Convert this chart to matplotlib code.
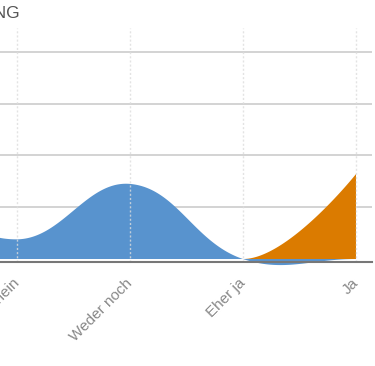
import numpy as np
import matplotlib
matplotlib.use("Agg")
import matplotlib.pyplot as plt

# ---- data ----
categories = ["Nein", "Eher nein", "Weder noch", "Eher ja", "Ja"]
blue_values = [14.0, 3.8, 14.5, 0.0, 0.0]
orange_values = [0.0, 0.0, 0.0, 0.0, 16.4]
title_text = "ZUSTIMMUNG"
grid_values = [10, 20, 30, 40]

BLUE = "#5893ce"
ORANGE = "#db7b00"

W, H = 375, 366
fig = plt.figure(figsize=(W / 100, H / 100), dpi=100)
ax = fig.add_axes([-112 / W, 104.5 / H, 484 / W, 233.5 / H])
ax.set_xlim(-0.1416, 4.1416)
ax.set_ylim(-0.48, 44.6)
fig.canvas.draw()


def bezier_curve(pts, c_out, c_in, n=80):
    out = []
    t = np.linspace(0, 1, n)[:, None]
    for i in range(len(pts) - 1):
        p0, p1, p2, p3 = pts[i], c_out[i], c_in[i + 1], pts[i + 1]
        seg = ((1 - t) ** 3) * p0 + 3 * ((1 - t) ** 2) * t * p1 \
            + 3 * (1 - t) * t ** 2 * p2 + t ** 3 * p3
        out.append(seg if i == 0 else seg[1:])
    return ax.transData.inverted().transform(np.vstack(out))


def cardinal_controls(pts, tension=0.4):
    N = len(pts)
    c_in = pts.copy()
    c_out = pts.copy()
    for i in range(N):
        cur = pts[i]
        prv = pts[i - 1] if i > 0 else cur
        nxt = pts[i + 1] if i < N - 1 else cur
        d01 = np.hypot(*(cur - prv))
        d12 = np.hypot(*(nxt - cur))
        s = d01 + d12
        s01 = d01 / s if s else 0
        s12 = d12 / s if s else 0
        c_in[i] = cur - tension * s01 * (nxt - prv)
        c_out[i] = cur + tension * s12 * (nxt - prv)
    return c_out, c_in


def smooth_controls(pts, smoothing=1.5):
    N = len(pts)
    c_in = pts.copy()
    c_out = pts.copy()
    den = smoothing + 1
    for i in range(1, N - 1):
        (lx, ly), (px, py), (nx, ny) = pts[i - 1], pts[i], pts[i + 1]
        lcx = (smoothing * px + lx) / den
        lcy = (smoothing * py + ly) / den
        rcx = (smoothing * px + nx) / den
        rcy = (smoothing * py + ny) / den
        if rcx != lcx:
            corr = (rcy - lcy) * (rcx - px) / (rcx - lcx) + py - rcy
            lcy += corr
            rcy += corr
        if lcy > ly and lcy > py:
            lcy = max(ly, py); rcy = 2 * py - lcy
        elif lcy < ly and lcy < py:
            lcy = min(ly, py); rcy = 2 * py - lcy
        if rcy > ny and rcy > py:
            rcy = max(ny, py); lcy = 2 * py - rcy
        elif rcy < ny and rcy < py:
            rcy = min(ny, py); lcy = 2 * py - rcy
        c_in[i] = (lcx, lcy)
        c_out[i] = (rcx, rcy)
    return c_out, c_in


def area_polygon(values, controls):
    xs = np.arange(len(values), dtype=float)
    pts = ax.transData.transform(np.column_stack([xs, values]))
    c_out, c_in = controls(pts)
    curve = bezier_curve(pts, c_out, c_in)
    return np.vstack([curve, [[xs[-1], 0.0], [xs[0], 0.0]]])


for vals, ctrl, col, z in [(blue_values, cardinal_controls, BLUE, 2),
                           (orange_values, smooth_controls, ORANGE, 2.1)]:
    poly = area_polygon(vals, ctrl)
    ax.fill(poly[:, 0], poly[:, 1], color=col, lw=0, zorder=z, clip_on=False)

# horizontal grid
ax.set_yticks(grid_values)
ax.yaxis.grid(True, color="#cccccc", lw=1.2, zorder=0)
ax.set_axisbelow(True)
ax.tick_params(axis="y", length=0, labelleft=False)

# vertical dotted grid over areas
ticks = np.arange(len(categories))
for tx in ticks:
    ax.axvline(tx, color="#dddddd", lw=1, ls=(0, (1.5, 1.5)), zorder=3, alpha=0.8)

ax.set_xticks(ticks)
ax.set_xticklabels(categories, rotation=45, ha="right", va="center",
                   rotation_mode="anchor", color="#888888", fontsize=11,
                   family="Liberation Sans")
ax.tick_params(axis="x", length=0, pad=14)

for s in ["top", "left", "right"]:
    ax.spines[s].set_visible(False)
ax.spines["bottom"].set_color("#777777")
ax.spines["bottom"].set_linewidth(1.5)
ax.spines["bottom"].set_zorder(4)

fig.text(20 / W, 1 - 18 / H, title_text, ha="right", va="baseline",
         fontsize=12.5, color="#555555", family="Liberation Sans")

fig.savefig("out.png", dpi=100)
